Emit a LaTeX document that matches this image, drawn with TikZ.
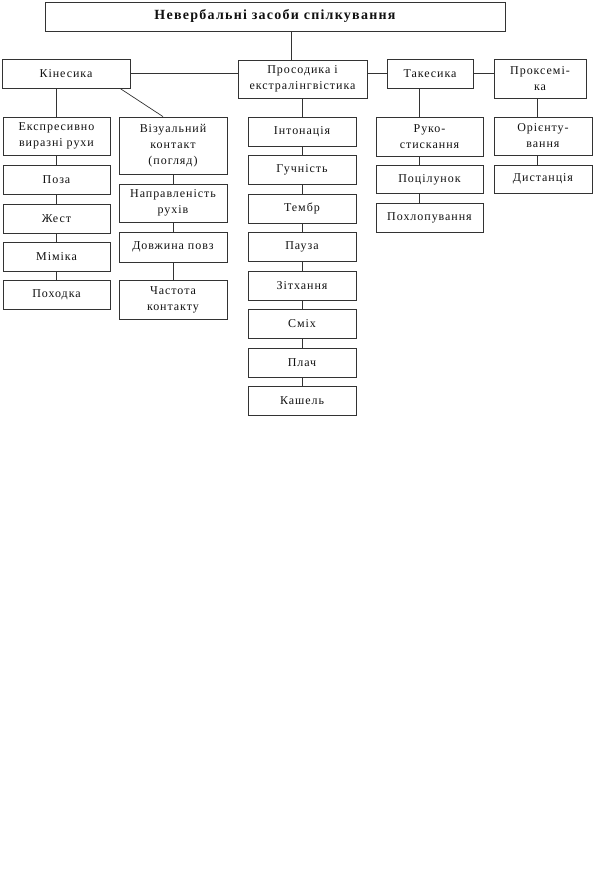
\documentclass[tikz,border=0pt]{standalone}
\usepackage{fontspec}
\setmainfont{Liberation Serif}
\newfontfamily\boxfont[LetterSpace=8]{Liberation Serif}
\newfontfamily\headfont[LetterSpace=9]{Liberation Serif}
\usetikzlibrary{positioning}
\definecolor{textcolor}{HTML}{111111}
\definecolor{edgecolor}{HTML}{333333}
\tikzset{
  base/.style={draw=edgecolor, line width=0.8pt, align=center, inner sep=2pt, text=textcolor, font=\boxfont\fontsize{12}{16}\selectfont},
  headbox/.style={base, font=\headfont\fontsize{14}{16}\selectfont\bfseries, minimum width=460, minimum height=29},
  groupbox/.style={base, minimum height=29},
  itembox/.style={base, minimum width=108, minimum height=29},
  link/.style={draw=edgecolor, line width=0.7pt},
}
\begin{document}
\begin{tikzpicture}[x=1pt,y=-1pt]
  \useasboundingbox (0,0) rectangle (594,893);

  \node[headbox] (title) at (275,16.5) {Невербальні засоби спілкування};

  % groups
  \node[groupbox, minimum width=128] (kin) at (66,73.5) {Кінесика};
  \node[groupbox, minimum width=129, minimum height=38] (pros) at (302.5,79) {Просодика і\\ екстралінгвістика};
  \node[groupbox, minimum width=86] (tak) at (430,73.5) {Такесика};
  \node[groupbox, minimum width=92, minimum height=39] (prox) at (540,78.5) {Проксемі-\\ ка};

  \draw[link] ([xshift=-11]pros.north) -- ([xshift=-11]pros.north |- title.south);
  \draw[link] (kin.east) -- (kin.east -| pros.west);
  \draw[link] (pros.east |- tak.west) -- (tak.west);
  \draw[link] (tak.east) -- (tak.east -| prox.west);

  % kinesics
  \node[itembox, minimum width=107, minimum height=38] (expr) at (56.5,136) {Експресивно\\ виразні рухи};
  \node[itembox, minimum width=107] (poza) at (56.5,179.5) {Поза};
  \node[itembox, minimum width=107] (zhest) at (56.5,218.5) {Жест};
  \node[itembox, minimum width=107] (mimika) at (56.5,256.5) {Міміка};
  \node[itembox, minimum width=107] (khoda) at (56.5,295) {Походка};

  \node[itembox, minimum height=57] (pohliad) at (173,145.5) {Візуальний\\ контакт\\ (погляд)};
  \node[itembox, minimum height=38] (napriam) at (173,203) {Направленість\\ рухів};
  \node[itembox, minimum height=30] (dovzh) at (173,247) {Довжина повз};
  \node[itembox, minimum height=39] (chastota) at (173,299.5) {Частота\\ контакту};

  \draw[link] (kin.south -| expr.north) -- (expr.north);
  \draw[link] ([xshift=54]kin.south) -- ([xshift=-10]pohliad.north);
  \draw[link] (expr) -- (poza);
  \draw[link] (poza) -- (zhest);
  \draw[link] (zhest) -- (mimika);
  \draw[link] (mimika) -- (khoda);
  \draw[link] (pohliad) -- (napriam);
  \draw[link] (napriam) -- (dovzh);
  \draw[link] (dovzh) -- (chastota);

  % prosody
  \node[itembox] (inton) at (302,131.5) {Інтонація};
  \node[itembox] (huchn) at (302,170) {Гучність};
  \node[itembox] (tembr) at (302,208.5) {Тембр};
  \node[itembox] (pauza) at (302,247) {Пауза};
  \node[itembox] (zitkh) at (302,285.5) {Зітхання};
  \node[itembox] (smikh) at (302,323.5) {Сміх};
  \node[itembox] (plach) at (302,362.5) {Плач};
  \node[itembox] (kashel) at (302,400.5) {Кашель};

  \draw[link] (pros.south -| inton.north) -- (inton.north);
  \draw[link] (inton) -- (huchn);
  \draw[link] (huchn) -- (tembr);
  \draw[link] (tembr) -- (pauza);
  \draw[link] (pauza) -- (zitkh);
  \draw[link] (zitkh) -- (smikh);
  \draw[link] (smikh) -- (plach);
  \draw[link] (plach) -- (kashel);

  % touch
  \node[itembox, minimum width=107, minimum height=39] (ruko) at (429.5,136.5) {Руко-\\ стискання};
  \node[itembox, minimum width=107, minimum height=28] (potsil) at (429.5,179.5) {Поцілунок};
  \node[itembox, minimum width=107] (poklop) at (429.5,217.5) {Похлопування};

  \draw[link] ([xshift=-11]tak.south) -- ([xshift=-11]tak.south |- ruko.north);
  \draw[link] ([xshift=-10.5]ruko.south) -- ([xshift=-10.5]potsil.north);
  \draw[link] ([xshift=-10.5]potsil.south) -- ([xshift=-10.5]poklop.north);

  % space
  \node[itembox, minimum width=98, minimum height=38] (orient) at (543,136) {Орієнту-\\ вання};
  \node[itembox, minimum width=98, minimum height=28] (dyst) at (543,179) {Дистанція};

  \draw[link] ([xshift=-3]prox.south) -- ([xshift=-3]prox.south |- orient.north);
  \draw[link] ([xshift=-6]orient.south) -- ([xshift=-6]dyst.north);
\end{tikzpicture}
\end{document}
